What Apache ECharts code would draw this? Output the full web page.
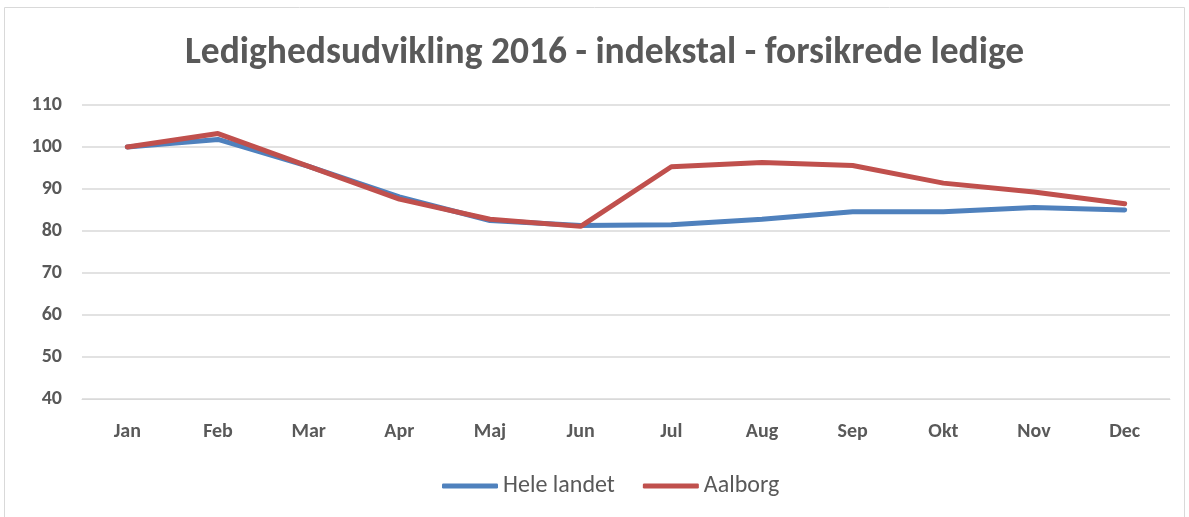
<!DOCTYPE html>
<html>
<head>
<meta charset="utf-8">
<script src="https://cdn.jsdelivr.net/npm/echarts@6/dist/echarts.min.js"></script>
<style>
  html, body { margin: 0; padding: 0; background: #fff; }
  #chart { width: 1189px; height: 517px; }
</style>
</head>
<body>
<div id="chart"></div>
<script>
const months = ["Jan", "Feb", "Mar", "Apr", "Maj", "Jun", "Jul", "Aug", "Sep", "Okt", "Nov", "Dec"];
const heleLandet = [100, 101.8, 95.4, 88.1, 82.5, 81.3, 81.5, 82.8, 84.6, 84.6, 85.6, 85.0];
const aalborg = [100, 103.2, 95.4, 87.6, 82.8, 81.1, 95.3, 96.3, 95.6, 91.4, 89.3, 86.5];

const font = "Carlito, Lato, 'Open Sans', sans-serif";
const chart = echarts.init(document.getElementById("chart"));

chart.setOption({
  animation: false,
  textStyle: { fontFamily: font },
  graphic: [
    {
      type: "rect",
      shape: { x: 4.5, y: 7.5, width: 1180, height: 520 },
      style: { fill: "none", stroke: "#d9d9d9", lineWidth: 1 },
    },
  ],
  title: {
    text: "Ledighedsudvikling 2016 - indekstal - forsikrede ledige",
    left: 180,
    top: 30,
    textStyle: { fontFamily: font, fontSize: 37.5, fontWeight: "bold", color: "#595959" },
  },
  legend: {
    bottom: 14,
    left: 437,
    itemWidth: 56,
    itemHeight: 5,
    itemGap: 28,
    icon: "roundRect",
    textStyle: { fontFamily: font, fontSize: 24, color: "#595959" },
    data: ["Hele landet", "Aalborg"],
  },
  grid: { left: 82, right: 19, top: 105, bottom: 118, containLabel: false },
  xAxis: {
    type: "category",
    data: months,
    boundaryGap: true,
    axisLine: { lineStyle: { color: "#d9d9d9" } },
    axisTick: { show: false },
    axisLabel: { fontFamily: font, fontSize: 20, fontWeight: "bold", color: "#595959", margin: 23 },
  },
  yAxis: {
    type: "value",
    min: 40,
    max: 110,
    interval: 10,
    axisLine: { show: false },
    axisTick: { show: false },
    splitLine: { lineStyle: { color: "#d9d9d9", width: 1.5 } },
    axisLabel: { fontFamily: font, fontSize: 20, fontWeight: "bold", color: "#595959", margin: 20 },
  },
  series: [
    {
      name: "Hele landet",
      type: "line",
      data: heleLandet,
      symbol: "none",
      itemStyle: { color: "#4F81BD" },
      lineStyle: { color: "#4F81BD", width: 5, cap: "round" },
    },
    {
      name: "Aalborg",
      type: "line",
      data: aalborg,
      symbol: "none",
      itemStyle: { color: "#C0504D" },
      lineStyle: { color: "#C0504D", width: 5, cap: "round" },
    },
  ],
});
</script>
</body>
</html>
